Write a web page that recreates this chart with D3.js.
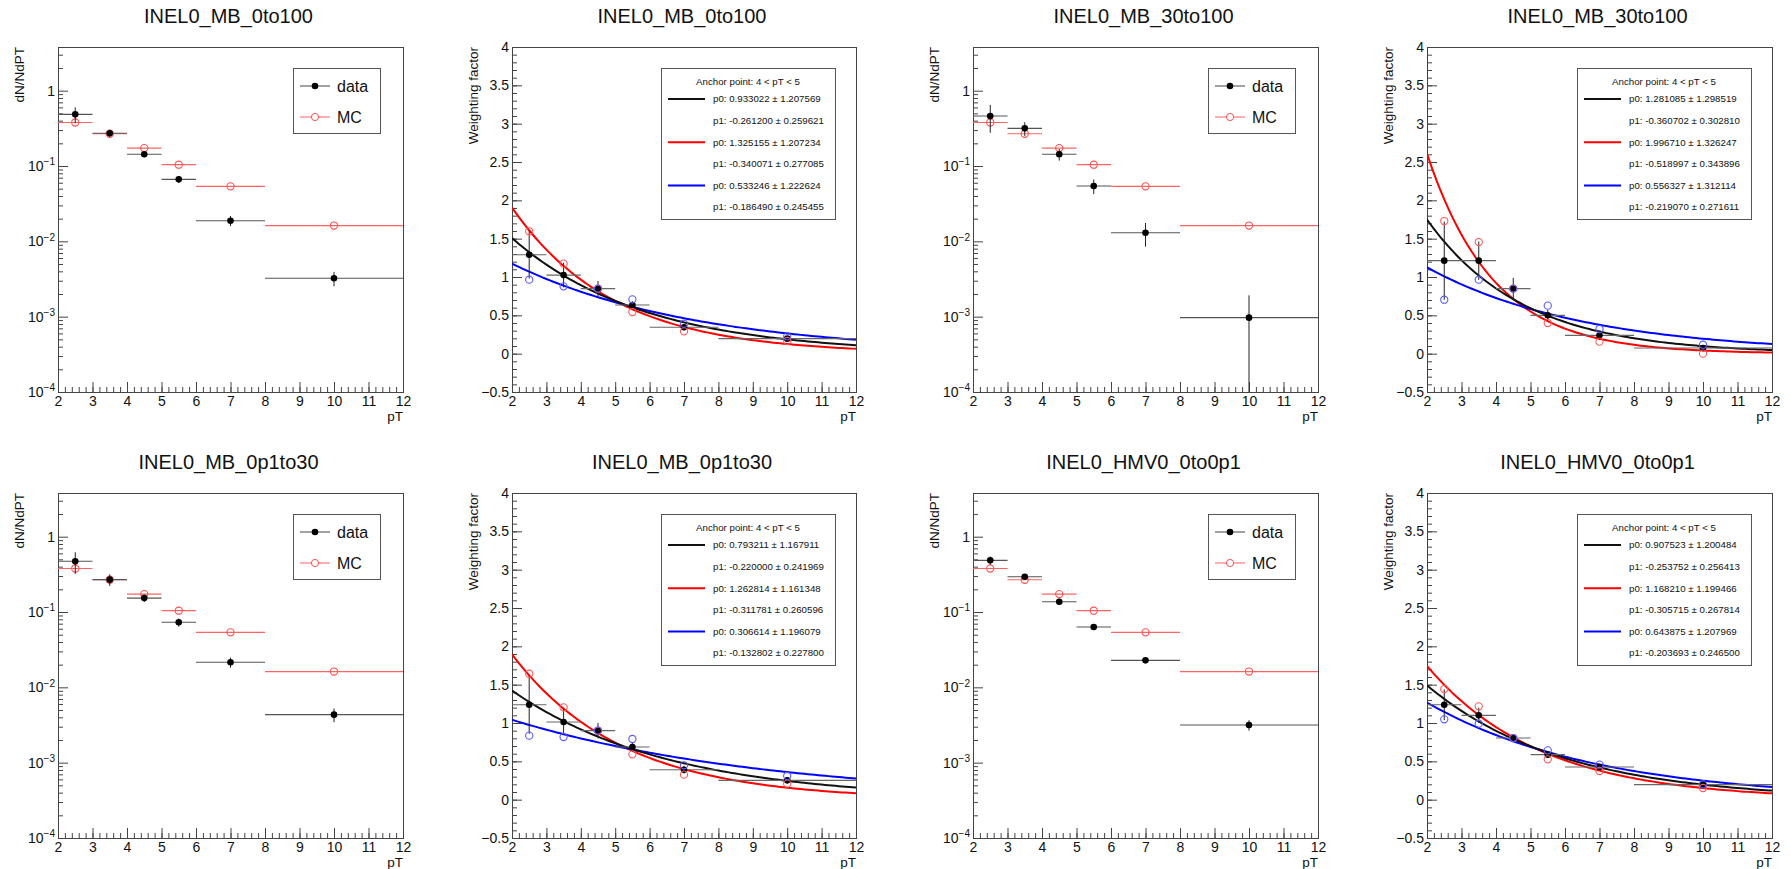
<!DOCTYPE html>
<html><head><meta charset="utf-8">
<script src="https://cdn.jsdelivr.net/npm/d3@7"></script>
<style>body{margin:0;background:#fff} svg{display:block}</style>
</head><body><svg id="c" width="1791" height="869"></svg>
<script>
// ---------------- data ----------------
const pTBinLow  = [2, 3, 4, 5, 6, 8];
const pTBinHigh = [3, 4, 5, 6, 8, 12];
const pTCenters = [2.5, 3.5, 4.5, 5.5, 7, 10];

const panelTitles = ["INEL0_MB_0to100", "INEL0_MB_0to100", "INEL0_MB_30to100", "INEL0_MB_30to100",
                     "INEL0_MB_0p1to30", "INEL0_MB_0p1to30", "INEL0_HMV0_0to0p1", "INEL0_HMV0_0to0p1"];

const logTickValues = [1e-4, 1e-3, 1e-2, 1e-1, 1];
const xMajorTicks = [2, 3, 4, 5, 6, 7, 8, 9, 10, 11, 12];
const wMajorTicks = [-0.5, 0, 0.5, 1, 1.5, 2, 2.5, 3, 3.5, 4];

// MC spectrum (same in all classes)
const mcSpectrum = [0.378, 0.268, 0.173, 0.104, 0.0537, 0.0162];

// data spectra
const dataMB0to100     = [0.485, 0.272, 0.143, 0.0665, 0.0188, 0.00323];
const dataMB0to100Err  = [0.115, 0.03, 0.012, 0.007, 0.0029, 0.0007];
const dataMB30to100    = [0.461, 0.316, 0.143, 0.0543, 0.013, 0.00097];
const dataMB30to100Err = [0.185, 0.065, 0.025, 0.012, 0.0045, 0.00095];
const dataMB0p1to30    = [0.471, 0.269, 0.153, 0.073, 0.0215, 0.00434];
const dataMB0p1to30Err = [0.15, 0.047, 0.017, 0.009, 0.0033, 0.0009];
const dataHMV0         = [0.485, 0.294, 0.137, 0.0632, 0.0228, 0.00316];
const dataHMV0Err      = [0.06, 0.015, 0.006, 0.003, 0.001, 0.0005];

// weighting factors (black = nominal, red / blue = variations)
const wMB0to100      = [1.29, 1.025, 0.848, 0.635, 0.345, 0.196];
const wMB0to100Err   = [0.31, 0.16, 0.1, 0.05, 0.04, 0.03];
const wMB0to100Red   = [1.596, 1.174, 0.848, 0.543, 0.291, 0.165];
const wMB0to100Blue  = [0.965, 0.878, 0.848, 0.709, 0.391, 0.226];

const wMB30to100     = [1.213, 1.213, 0.848, 0.5, 0.239, 0.074];
const wMB30to100Err  = [0.51, 0.25, 0.14, 0.07, 0.06, 0.04];
const wMB30to100Red  = [1.73, 1.456, 0.848, 0.4, 0.157, 0.0];
const wMB30to100Blue = [0.704, 0.965, 0.848, 0.626, 0.321, 0.117];

const wMB0p1to30     = [1.239, 1.013, 0.9, 0.687, 0.391, 0.252];
const wMB0p1to30Err  = [0.38, 0.17, 0.1, 0.06, 0.05, 0.04];
const wMB0p1to30Red  = [1.643, 1.204, 0.9, 0.591, 0.326, 0.209];
const wMB0p1to30Blue = [0.835, 0.817, 0.9, 0.791, 0.448, 0.309];

const wHMV0          = [1.239, 1.1, 0.804, 0.587, 0.426, 0.196];
const wHMV0Err       = [0.2, 0.1, 0.05, 0.04, 0.03, 0.02];
const wHMV0Red       = [1.443, 1.217, 0.804, 0.526, 0.374, 0.152];
const wHMV0Blue      = [1.048, 0.991, 0.804, 0.643, 0.457, 0.2];

// exponential fit parameters: [black, red, blue]
const fitP0_MB0to100     = [0.933022, 1.325155, 0.533246];
const fitP0Err_MB0to100  = [1.207569, 1.207234, 1.222624];
const fitP1_MB0to100     = [-0.261200, -0.340071, -0.186490];
const fitP1Err_MB0to100  = [0.259621, 0.277085, 0.245455];

const fitP0_MB30to100    = [1.281085, 1.996710, 0.556327];
const fitP0Err_MB30to100 = [1.298519, 1.326247, 1.312114];
const fitP1_MB30to100    = [-0.360702, -0.518997, -0.219070];
const fitP1Err_MB30to100 = [0.302810, 0.343896, 0.271611];

const fitP0_MB0p1to30    = [0.793211, 1.262814, 0.306614];
const fitP0Err_MB0p1to30 = [1.167911, 1.161348, 1.196079];
const fitP1_MB0p1to30    = [-0.220000, -0.311781, -0.132802];
const fitP1Err_MB0p1to30 = [0.241969, 0.260596, 0.227800];

const fitP0_HMV0         = [0.907523, 1.168210, 0.643875];
const fitP0Err_HMV0      = [1.200484, 1.199466, 1.207969];
const fitP1_HMV0         = [-0.253752, -0.305715, -0.203693];
const fitP1Err_HMV0      = [0.256413, 0.267814, 0.246500];

const legendHeader = "Anchor point: 4 < pT < 5";

// ---------------- layout ----------------
const FONT = "'Liberation Sans', Arial, Helvetica, sans-serif";
const colEdges = [[58, 403], [512, 856], [973, 1318], [1427, 1772]];
const rowEdges = [[47, 392], [493, 838]];
const fitColors = ["#111", "#ff0000", "#0000ff"];
const svg = d3.select("#c");

const panels = [
  {type: "log", col: 0, row: 0, title: panelTitles[0], data: dataMB0to100, err: dataMB0to100Err},
  {type: "w",   col: 1, row: 0, title: panelTitles[1], w: wMB0to100, werr: wMB0to100Err, red: wMB0to100Red, blue: wMB0to100Blue,
     p0: fitP0_MB0to100, p0e: fitP0Err_MB0to100, p1: fitP1_MB0to100, p1e: fitP1Err_MB0to100},
  {type: "log", col: 2, row: 0, title: panelTitles[2], data: dataMB30to100, err: dataMB30to100Err},
  {type: "w",   col: 3, row: 0, title: panelTitles[3], w: wMB30to100, werr: wMB30to100Err, red: wMB30to100Red, blue: wMB30to100Blue,
     p0: fitP0_MB30to100, p0e: fitP0Err_MB30to100, p1: fitP1_MB30to100, p1e: fitP1Err_MB30to100},
  {type: "log", col: 0, row: 1, title: panelTitles[4], data: dataMB0p1to30, err: dataMB0p1to30Err},
  {type: "w",   col: 1, row: 1, title: panelTitles[5], w: wMB0p1to30, werr: wMB0p1to30Err, red: wMB0p1to30Red, blue: wMB0p1to30Blue,
     p0: fitP0_MB0p1to30, p0e: fitP0Err_MB0p1to30, p1: fitP1_MB0p1to30, p1e: fitP1Err_MB0p1to30},
  {type: "log", col: 2, row: 1, title: panelTitles[6], data: dataHMV0, err: dataHMV0Err},
  {type: "w",   col: 3, row: 1, title: panelTitles[7], w: wHMV0, werr: wHMV0Err, red: wHMV0Red, blue: wHMV0Blue,
     p0: fitP0_HMV0, p0e: fitP0Err_HMV0, p1: fitP1_HMV0, p1e: fitP1Err_HMV0}
];

function styleAxis(g, size) {
  g.attr("font-family", FONT).attr("font-size", size);
  g.selectAll(".domain").remove();
  g.selectAll("line").attr("stroke", "#444").attr("stroke-width", 1);
  g.selectAll("text").attr("fill", "#111");
}

function drawCommon(g, f, p, x, y, yTitle, yMinor, yMajor, yFmt) {
  g.append("text").attr("x", (f.x0 + f.x1) / 2 - 2).attr("y", f.y0 - 24)
    .attr("text-anchor", "middle").attr("font-family", FONT).attr("font-size", 20).attr("fill", "#111")
    .text(p.title);

  // x axis
  const xMinor = d3.range(20, 121, 2).map(v => v / 10);
  styleAxis(g.append("g").attr("transform", `translate(0,${f.y1})`)
    .call(d3.axisBottom(x).tickValues(xMinor).tickSize(-5).tickFormat("")), 14);
  styleAxis(g.append("g").attr("transform", `translate(0,${f.y1})`)
    .call(d3.axisBottom(x).tickValues(xMajorTicks).tickSize(-10).tickPadding(4)), 14);

  // y axis
  styleAxis(g.append("g").attr("transform", `translate(${f.x0},0)`)
    .call(d3.axisLeft(y).tickValues(yMinor).tickSize(-5).tickFormat("")), 14);
  const gy = g.append("g").attr("transform", `translate(${f.x0},0)`)
    .call(d3.axisLeft(y).tickValues(yMajor).tickSize(-10).tickPadding(3).tickFormat(yFmt));
  styleAxis(gy, 14);

  g.append("rect").attr("x", f.x0 + 0.5).attr("y", f.y0 + 0.5)
    .attr("width", f.x1 - f.x0).attr("height", f.y1 - f.y0)
    .attr("fill", "none").attr("stroke", "#444").attr("stroke-width", 1);

  g.append("text").attr("transform", `translate(${f.x0 - 34},${f.y0}) rotate(-90)`)
    .attr("text-anchor", "end").attr("font-family", FONT).attr("font-size", 13.5).attr("fill", "#111")
    .text(yTitle);
  g.append("text").attr("x", f.x1).attr("y", f.y1 + 29).attr("text-anchor", "end")
    .attr("font-family", FONT).attr("font-size", 13.5).attr("fill", "#111").text("pT");
  return gy;
}

panels.forEach(p => {
  const f = {x0: colEdges[p.col][0], x1: colEdges[p.col][1], y0: rowEdges[p.row][0], y1: rowEdges[p.row][1]};
  const g = svg.append("g");
  const x = d3.scaleLinear().domain([2, 12]).range([f.x0, f.x1]);

  if (p.type === "log") {
    const y = d3.scaleLog().domain([1e-4, 3.8]).range([f.y1, f.y0]);
    const yMinor = [];
    for (let e = -4; e <= 0; e++) for (let k = 2; k <= 9; k++) { const v = k * Math.pow(10, e); if (v <= 3.8) yMinor.push(v); }
    const gy = drawCommon(g, f, p, x, y, "dN/NdPT", yMinor, logTickValues, d => String(d));
    gy.selectAll(".tick text").each(function(d) {
      const t = d3.select(this); const e = Math.round(Math.log10(d));
      t.text(null);
      if (e === 0) t.text("1");
      else { t.append("tspan").text("10"); t.append("tspan").attr("dy", "-0.55em").attr("font-size", "0.72em").text("−" + (-e)); }
    });

    const idx = d3.range(pTCenters.length);
    // MC
    const mc = g.append("g");
    idx.forEach(i => {
      mc.append("line").attr("x1", x(pTBinLow[i])).attr("x2", x(pTBinHigh[i]))
        .attr("y1", y(mcSpectrum[i])).attr("y2", y(mcSpectrum[i])).attr("stroke", "#ff6363").attr("stroke-width", 1.2);
      mc.append("circle").attr("cx", x(pTCenters[i])).attr("cy", y(mcSpectrum[i])).attr("r", 3.6)
        .attr("fill", "none").attr("stroke", "#ff5050").attr("stroke-width", 1.1);
    });
    // data
    const dg = g.append("g");
    idx.forEach(i => {
      const v = p.data[i], e = p.err[i];
      dg.append("line").attr("x1", x(pTBinLow[i])).attr("x2", x(pTBinHigh[i]))
        .attr("y1", y(v)).attr("y2", y(v)).attr("stroke", "#555").attr("stroke-width", 1.1);
      dg.append("line").attr("x1", x(pTCenters[i])).attr("x2", x(pTCenters[i]))
        .attr("y1", y(Math.max(v - e, 1e-4))).attr("y2", y(v + e)).attr("stroke", "#222").attr("stroke-width", 1);
      dg.append("circle").attr("cx", x(pTCenters[i])).attr("cy", y(v)).attr("r", 3.3).attr("fill", "#000");
    });

    // legend
    const lx = f.x1 - 110, ly = f.y0 + 21;
    const lg = g.append("g").attr("font-family", FONT);
    lg.append("rect").attr("x", lx + 0.5).attr("y", ly + 0.5).attr("width", 87).attr("height", 65)
      .attr("fill", "#fff").attr("stroke", "#555");
    lg.append("line").attr("x1", lx + 7).attr("x2", lx + 37).attr("y1", ly + 18).attr("y2", ly + 18).attr("stroke", "#444");
    lg.append("circle").attr("cx", lx + 22).attr("cy", ly + 18).attr("r", 3.3).attr("fill", "#000");
    lg.append("text").attr("x", lx + 44).attr("y", ly + 24).attr("font-size", 16).attr("fill", "#111").text("data");
    lg.append("line").attr("x1", lx + 7).attr("x2", lx + 37).attr("y1", ly + 49).attr("y2", ly + 49).attr("stroke", "#ff6363");
    lg.append("circle").attr("cx", lx + 22).attr("cy", ly + 49).attr("r", 3.6).attr("fill", "#fff").attr("stroke", "#ff5050");
    lg.append("text").attr("x", lx + 44).attr("y", ly + 55).attr("font-size", 16).attr("fill", "#111").text("MC");
  } else {
    const y = d3.scaleLinear().domain([-0.5, 4]).range([f.y1, f.y0]);
    const yMinor = d3.range(-5, 41, 1).map(v => v / 10);
    drawCommon(g, f, p, x, y, "Weighting factor", yMinor, wMajorTicks, d => d < 0 ? "−" + Math.abs(d) : String(d));

    const clipId = "clip" + p.col + p.row;
    g.append("clipPath").attr("id", clipId).append("rect")
      .attr("x", f.x0).attr("y", f.y0).attr("width", f.x1 - f.x0).attr("height", f.y1 - f.y0);

    // fitted functions exp(p0 + p1*x) from legend parameters
    const xs = d3.range(0, 101).map(i => 2 + i * 0.1);
    const line = d3.line().x(d => x(d[0])).y(d => y(d[1]));
    [1, 2, 0].forEach(k => {
      g.append("path").attr("clip-path", `url(#${clipId})`)
        .attr("d", line(xs.map(v => [v, Math.exp(p.p0[k] + p.p1[k] * v)])))
        .attr("fill", "none").attr("stroke", fitColors[k]).attr("stroke-width", 2);
    });

    const idx = d3.range(pTCenters.length);
    const dg = g.append("g");
    idx.forEach(i => {
      const v = p.w[i], e = p.werr[i];
      dg.append("line").attr("x1", x(pTBinLow[i])).attr("x2", x(pTBinHigh[i]))
        .attr("y1", y(v)).attr("y2", y(v)).attr("stroke", "#666").attr("stroke-width", 1.1);
      dg.append("line").attr("x1", x(pTCenters[i])).attr("x2", x(pTCenters[i]))
        .attr("y1", y(v - e)).attr("y2", y(v + e)).attr("stroke", "#222").attr("stroke-width", 1);
      dg.append("circle").attr("cx", x(pTCenters[i])).attr("cy", y(v)).attr("r", 3.3).attr("fill", "#000");
    });
    idx.forEach(i => {
      dg.append("circle").attr("cx", x(pTCenters[i])).attr("cy", y(p.red[i])).attr("r", 3.6)
        .attr("fill", "none").attr("stroke", "#ff5a5a").attr("stroke-width", 1.1);
      dg.append("circle").attr("cx", x(pTCenters[i])).attr("cy", y(p.blue[i])).attr("r", 3.6)
        .attr("fill", "none").attr("stroke", "#5a5aff").attr("stroke-width", 1.1);
    });

    // legend
    const bx = f.x1 - 195, by = f.y0 + 21;
    const lg = g.append("g").attr("font-family", FONT).attr("fill", "#111");
    lg.append("rect").attr("x", bx + 0.5).attr("y", by + 0.5).attr("width", 174).attr("height", 151)
      .attr("fill", "#fff").attr("stroke", "#555");
    lg.append("text").attr("x", bx + 87).attr("y", by + 17).attr("text-anchor", "middle")
      .attr("font-size", 9.7).text(legendHeader);
    const fmt = v => v.toFixed(6);
    for (let k = 0; k < 3; k++) {
      const c0 = by + 31 + (2 * k) * 21.6, c1 = by + 31 + (2 * k + 1) * 21.6;
      lg.append("line").attr("x1", bx + 7).attr("x2", bx + 44).attr("y1", c0).attr("y2", c0)
        .attr("stroke", fitColors[k]).attr("stroke-width", 2);
      lg.append("text").attr("x", bx + 52).attr("y", c0 + 3.4).attr("font-size", 9.7)
        .text(`p0: ${fmt(p.p0[k])} ± ${fmt(p.p0e[k])}`);
      lg.append("text").attr("x", bx + 52).attr("y", c1 + 3.4).attr("font-size", 9.7)
        .text(`p1: ${fmt(p.p1[k])} ± ${fmt(p.p1e[k])}`);
    }
  }
});
</script></body></html>
